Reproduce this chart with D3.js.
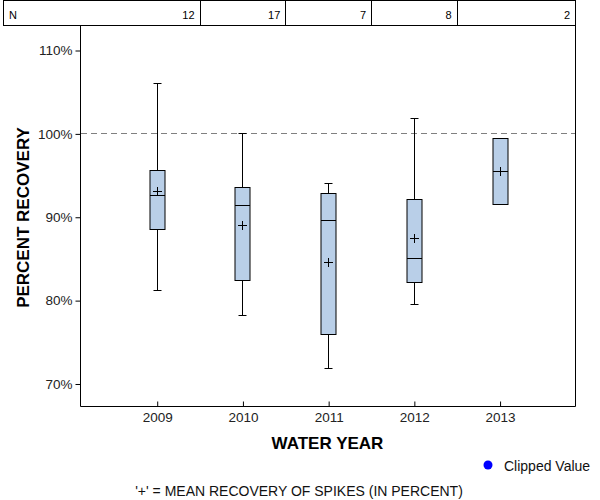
<!DOCTYPE html>
<html>
<head>
<meta charset="utf-8">
<script src="https://cdn.jsdelivr.net/npm/d3@7"></script>
<style>
  html, body { margin: 0; padding: 0; background: #fff; }
  svg { display: block; font-family: "Liberation Sans", Arial, sans-serif; }
</style>
</head>
<body>
<svg id="chart" width="600" height="500"></svg>
<script>
// ---- data ----
const years = [2009, 2010, 2011, 2012, 2013];
const nCounts = [12, 17, 7, 8, 2];
const whiskerLow = [81.2, 78.2, 71.9, 79.5, null];
const q1 = [88.5, 82.4, 75.9, 82.2, 91.5];
const median = [92.6, 91.4, 89.6, 85.0, 95.5];
const q3 = [95.6, 93.6, 92.8, 92.1, 99.5];
const whiskerHigh = [106.0, 100.0, 94.1, 101.9, null];
const meanVals = [93.1, 89.0, 84.6, 87.5, 95.5];
const yTicks = [70, 80, 90, 100, 110];
const referenceLine = 100;

// ---- layout ----
const svg = d3.select("#chart");
const pLeft = 80, pRight = 575, pTop = 25, pBottom = 406;

const x = d3.scaleLinear().domain([2008.105, 2013.88]).range([pLeft, pRight]);
const y = d3.scaleLinear().domain([67.3, 113.0]).range([pBottom, pTop]);
const px = v => Math.round(v) + 0.5;

const boxW = 15, capW = 7, plusW = 9;

// header N table
const hdr = svg.append("g");
hdr.append("rect").attr("x", 3.5).attr("y", 0.5).attr("width", pRight - 3)
  .attr("height", pTop).attr("fill", "none").attr("stroke", "#000");
const bounds = [3].concat(years.slice(0, -1).map((d, i) => (x(d) + x(years[i + 1])) / 2)).concat([pRight]);
bounds.slice(1, -1).forEach(b => {
  hdr.append("line").attr("x1", px(b)).attr("x2", px(b)).attr("y1", 0).attr("y2", pTop)
    .attr("stroke", "#000");
});
hdr.append("text").attr("x", 9).attr("y", 19).attr("font-size", 11).text("N");
years.forEach((d, i) => {
  hdr.append("text").attr("x", bounds[i + 1] - 5).attr("y", 19)
    .attr("font-size", 11).attr("text-anchor", "end").text(nCounts[i]);
});

// frame
const frame = svg.append("g").attr("stroke", "#000").attr("fill", "none");
frame.append("path").attr("d", `M${pLeft + 0.5},${pTop} V${pBottom + 0.5} H${pRight + 0.5} V${pTop}`);

// reference line
svg.append("line").attr("x1", pLeft + 1).attr("x2", pRight)
  .attr("y1", px(y(referenceLine))).attr("y2", px(y(referenceLine)))
  .attr("stroke", "#808080").attr("stroke-dasharray", "6,4");

// y axis
const yAxis = d3.axisLeft(y).tickValues(yTicks).tickFormat(d => d + "%")
  .tickSize(5).tickPadding(3);
const gy = svg.append("g").attr("transform", `translate(${pLeft + 0.5},0.5)`).call(yAxis);
gy.select(".domain").remove();
gy.selectAll("text").attr("font-size", 13.5).attr("fill", "#222")
  .attr("font-family", "Liberation Sans, Arial, sans-serif");

// x axis (ticks inside)
const xAxis = d3.axisBottom(x).tickValues(years).tickFormat(d3.format("d"))
  .tickSizeInner(-5).tickSizeOuter(0).tickPadding(6);
const gx = svg.append("g").attr("transform", `translate(0.5,${pBottom + 0.5})`).call(xAxis);
gx.select(".domain").remove();
gx.selectAll("text").attr("font-size", 13.5).attr("fill", "#222")
  .attr("font-family", "Liberation Sans, Arial, sans-serif");

// boxes
const boxes = svg.append("g");
years.forEach((d, i) => {
  const cx = Math.round(x(d)) + 0.5;
  const bx = cx - Math.floor(boxW / 2) - 0.5;
  const g = boxes.append("g").attr("stroke", "#000").attr("stroke-width", 1);
  if (whiskerHigh[i] != null) {
    g.append("line").attr("x1", cx).attr("x2", cx).attr("y1", px(y(whiskerHigh[i]))).attr("y2", px(y(q3[i])));
    g.append("line").attr("x1", cx - capW / 2 - 0.5).attr("x2", cx + capW / 2 + 0.5)
      .attr("y1", px(y(whiskerHigh[i]))).attr("y2", px(y(whiskerHigh[i])));
  }
  if (whiskerLow[i] != null) {
    g.append("line").attr("x1", cx).attr("x2", cx).attr("y1", px(y(q1[i]))).attr("y2", px(y(whiskerLow[i])));
    g.append("line").attr("x1", cx - capW / 2 - 0.5).attr("x2", cx + capW / 2 + 0.5)
      .attr("y1", px(y(whiskerLow[i]))).attr("y2", px(y(whiskerLow[i])));
  }
  const yTop = px(y(q3[i])), yBot = px(y(q1[i]));
  g.append("rect").attr("x", bx).attr("y", yTop)
    .attr("width", boxW).attr("height", yBot - yTop)
    .attr("fill", "#b9cfe8");
  g.append("line").attr("x1", bx).attr("x2", bx + boxW)
    .attr("y1", px(y(median[i]))).attr("y2", px(y(median[i])));
  const my = px(y(meanVals[i]));
  g.append("line").attr("x1", cx - plusW / 2).attr("x2", cx + plusW / 2).attr("y1", my).attr("y2", my);
  g.append("line").attr("x1", cx).attr("x2", cx).attr("y1", my - plusW / 2).attr("y2", my + plusW / 2);
});

// axis titles
svg.append("text").attr("x", (pLeft + pRight) / 2).attr("y", 449)
  .attr("text-anchor", "middle").attr("font-size", 17).attr("font-weight", "bold")
  .text("WATER YEAR");
svg.append("text").attr("transform", `translate(29,${(pTop + pBottom) / 2 + 2}) rotate(-90)`)
  .attr("text-anchor", "middle").attr("font-size", 17).attr("font-weight", "bold")
  .text("PERCENT RECOVERY");

// legend
svg.append("circle").attr("cx", 488).attr("cy", 465).attr("r", 4.5).attr("fill", "#0000ff");
svg.append("text").attr("x", 504).attr("y", 471).attr("font-size", 14).attr("fill", "#111")
  .text("Clipped Value");

// footnote
svg.append("text").attr("x", 299).attr("y", 496).attr("text-anchor", "middle")
  .attr("font-size", 14).attr("fill", "#111")
  .text("'+' = MEAN RECOVERY OF SPIKES (IN PERCENT)");
</script>
</body>
</html>
